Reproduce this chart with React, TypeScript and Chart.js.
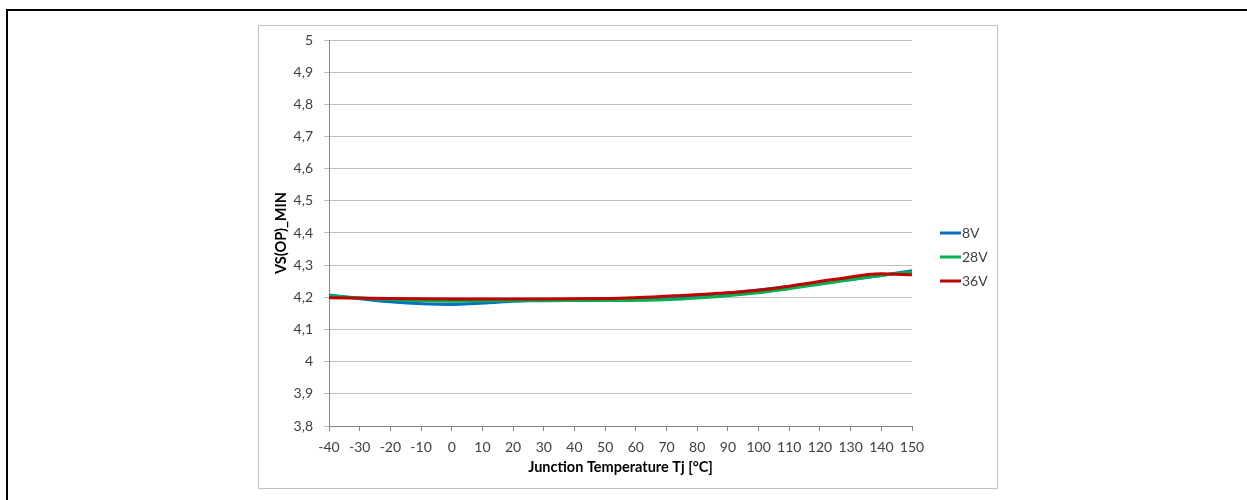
import React, { useEffect, useRef } from "react";
import { Chart, registerables } from "chart.js";

Chart.register(...registerables);

const temps = [-40, -20, 0, 25, 50, 75, 100, 125, 140, 150];
const v8 = [4.207, 4.186, 4.178, 4.189, 4.191, 4.2, 4.223, 4.25, 4.268, 4.283];
const v28 = [4.204, 4.193, 4.188, 4.19, 4.19, 4.195, 4.214, 4.248, 4.268, 4.279];
const v36 = [4.199, 4.196, 4.195, 4.195, 4.196, 4.206, 4.222, 4.256, 4.273, 4.27];
const seriesNames = ["8V", "28V", "36V"];
const seriesColors = ["#0070C0", "#00B050", "#C00000"];
const xTitle = "Junction Temperature Tj [°C]";
const yTitle = "VS(OP)_MIN";

const FONT = "Lato, 'Open Sans', sans-serif";

export default function App() {
  const ref = useRef<HTMLCanvasElement | null>(null);
  useEffect(() => {
    if (!ref.current) return;
    const all = [v8, v28, v36];
    const legendPlugin = {
      id: "customLegend",
      afterDraw(chart: any) {
        const ctx = chart.ctx;
        ctx.save();
        const ys = [207, 231, 255];
        seriesNames.forEach((n, i) => {
          ctx.strokeStyle = seriesColors[i];
          ctx.lineWidth = 3;
          ctx.beginPath();
          ctx.moveTo(681, ys[i]);
          ctx.lineTo(702, ys[i]);
          ctx.stroke();
          ctx.fillStyle = "#404040";
          ctx.font = `14px ${FONT}`;
          ctx.textBaseline = "middle";
          ctx.textAlign = "left";
          ctx.fillText(n, 703, ys[i]);
        });
        ctx.restore();
      },
    };
    const chart = new Chart(ref.current, {
      type: "line",
      data: {
        datasets: all.map((vals, i) => ({
          label: seriesNames[i],
          data: temps.map((t, j) => ({ x: t, y: vals[j] })),
          borderColor: seriesColors[i],
          backgroundColor: seriesColors[i],
          borderWidth: 3,
          pointRadius: 0,
          cubicInterpolationMode: "monotone" as const,
          order: 2 - i,
        })),
      },
      options: {
        animation: false,
        responsive: true,
        maintainAspectRatio: false,
        layout: { padding: { left: 0, top: 14, right: 84, bottom: 0 } },
        plugins: { legend: { display: false }, tooltip: { enabled: false } },
        scales: {
          x: {
            type: "linear",
            min: -40,
            max: 150,
            afterFit(s: any) {
              s.height = 61;
            },
            ticks: {
              stepSize: 10,
              color: "#404040",
              font: { family: FONT, size: 14 },
              padding: 8,
              maxRotation: 0,
              autoSkip: false,
            },
            grid: { drawOnChartArea: false, drawTicks: true, tickLength: 5, color: "#868686" },
            border: { display: true, color: "#868686" },
            title: {
              display: true,
              text: xTitle,
              color: "#000000",
              font: { family: FONT, size: 14.5, weight: "bold" },
              padding: { top: 0, bottom: 11 },
            },
          },
          y: {
            min: 3.8,
            max: 5,
            afterFit(s: any) {
              s.width = 70;
              s.paddingTop = 0;
              s.paddingBottom = 0;
            },
            ticks: {
              stepSize: 0.1,
              color: "#404040",
              font: { family: FONT, size: 14 },
              padding: 11,
              callback: (v: any) => {
                const r = Math.round(Number(v) * 10) / 10;
                return String(r).replace(".", ",");
              },
            },
            grid: { color: "#BFBFBF", tickLength: 5, drawTicks: true },
            border: { display: true, color: "#868686" },
            title: {
              display: true,
              text: yTitle,
              color: "#000000",
              font: { family: FONT, size: 14.5, weight: "bold" },
              padding: { top: 14, bottom: 0 },
            },
          },
        },
      },
      plugins: [legendPlugin],
    });
    return () => chart.destroy();
  }, []);

  return (
    <div
      style={{
        position: "absolute",
        left: 0,
        top: 0,
        width: 1247,
        height: 500,
        overflow: "hidden",
        background: "#ffffff",
      }}
    >
      <div
        style={{
          position: "absolute",
          left: 6,
          top: 9,
          width: 1300,
          height: 600,
          border: "2px solid #000000",
        }}
      />
      <div
        style={{
          position: "absolute",
          left: 258,
          top: 25,
          width: 738,
          height: 462,
          border: "1px solid #BFBFBF",
          background: "#ffffff",
        }}
      >
        <div style={{ position: "relative", width: 737, height: 461 }}>
          <canvas ref={ref} />
        </div>
      </div>
    </div>
  );
}
